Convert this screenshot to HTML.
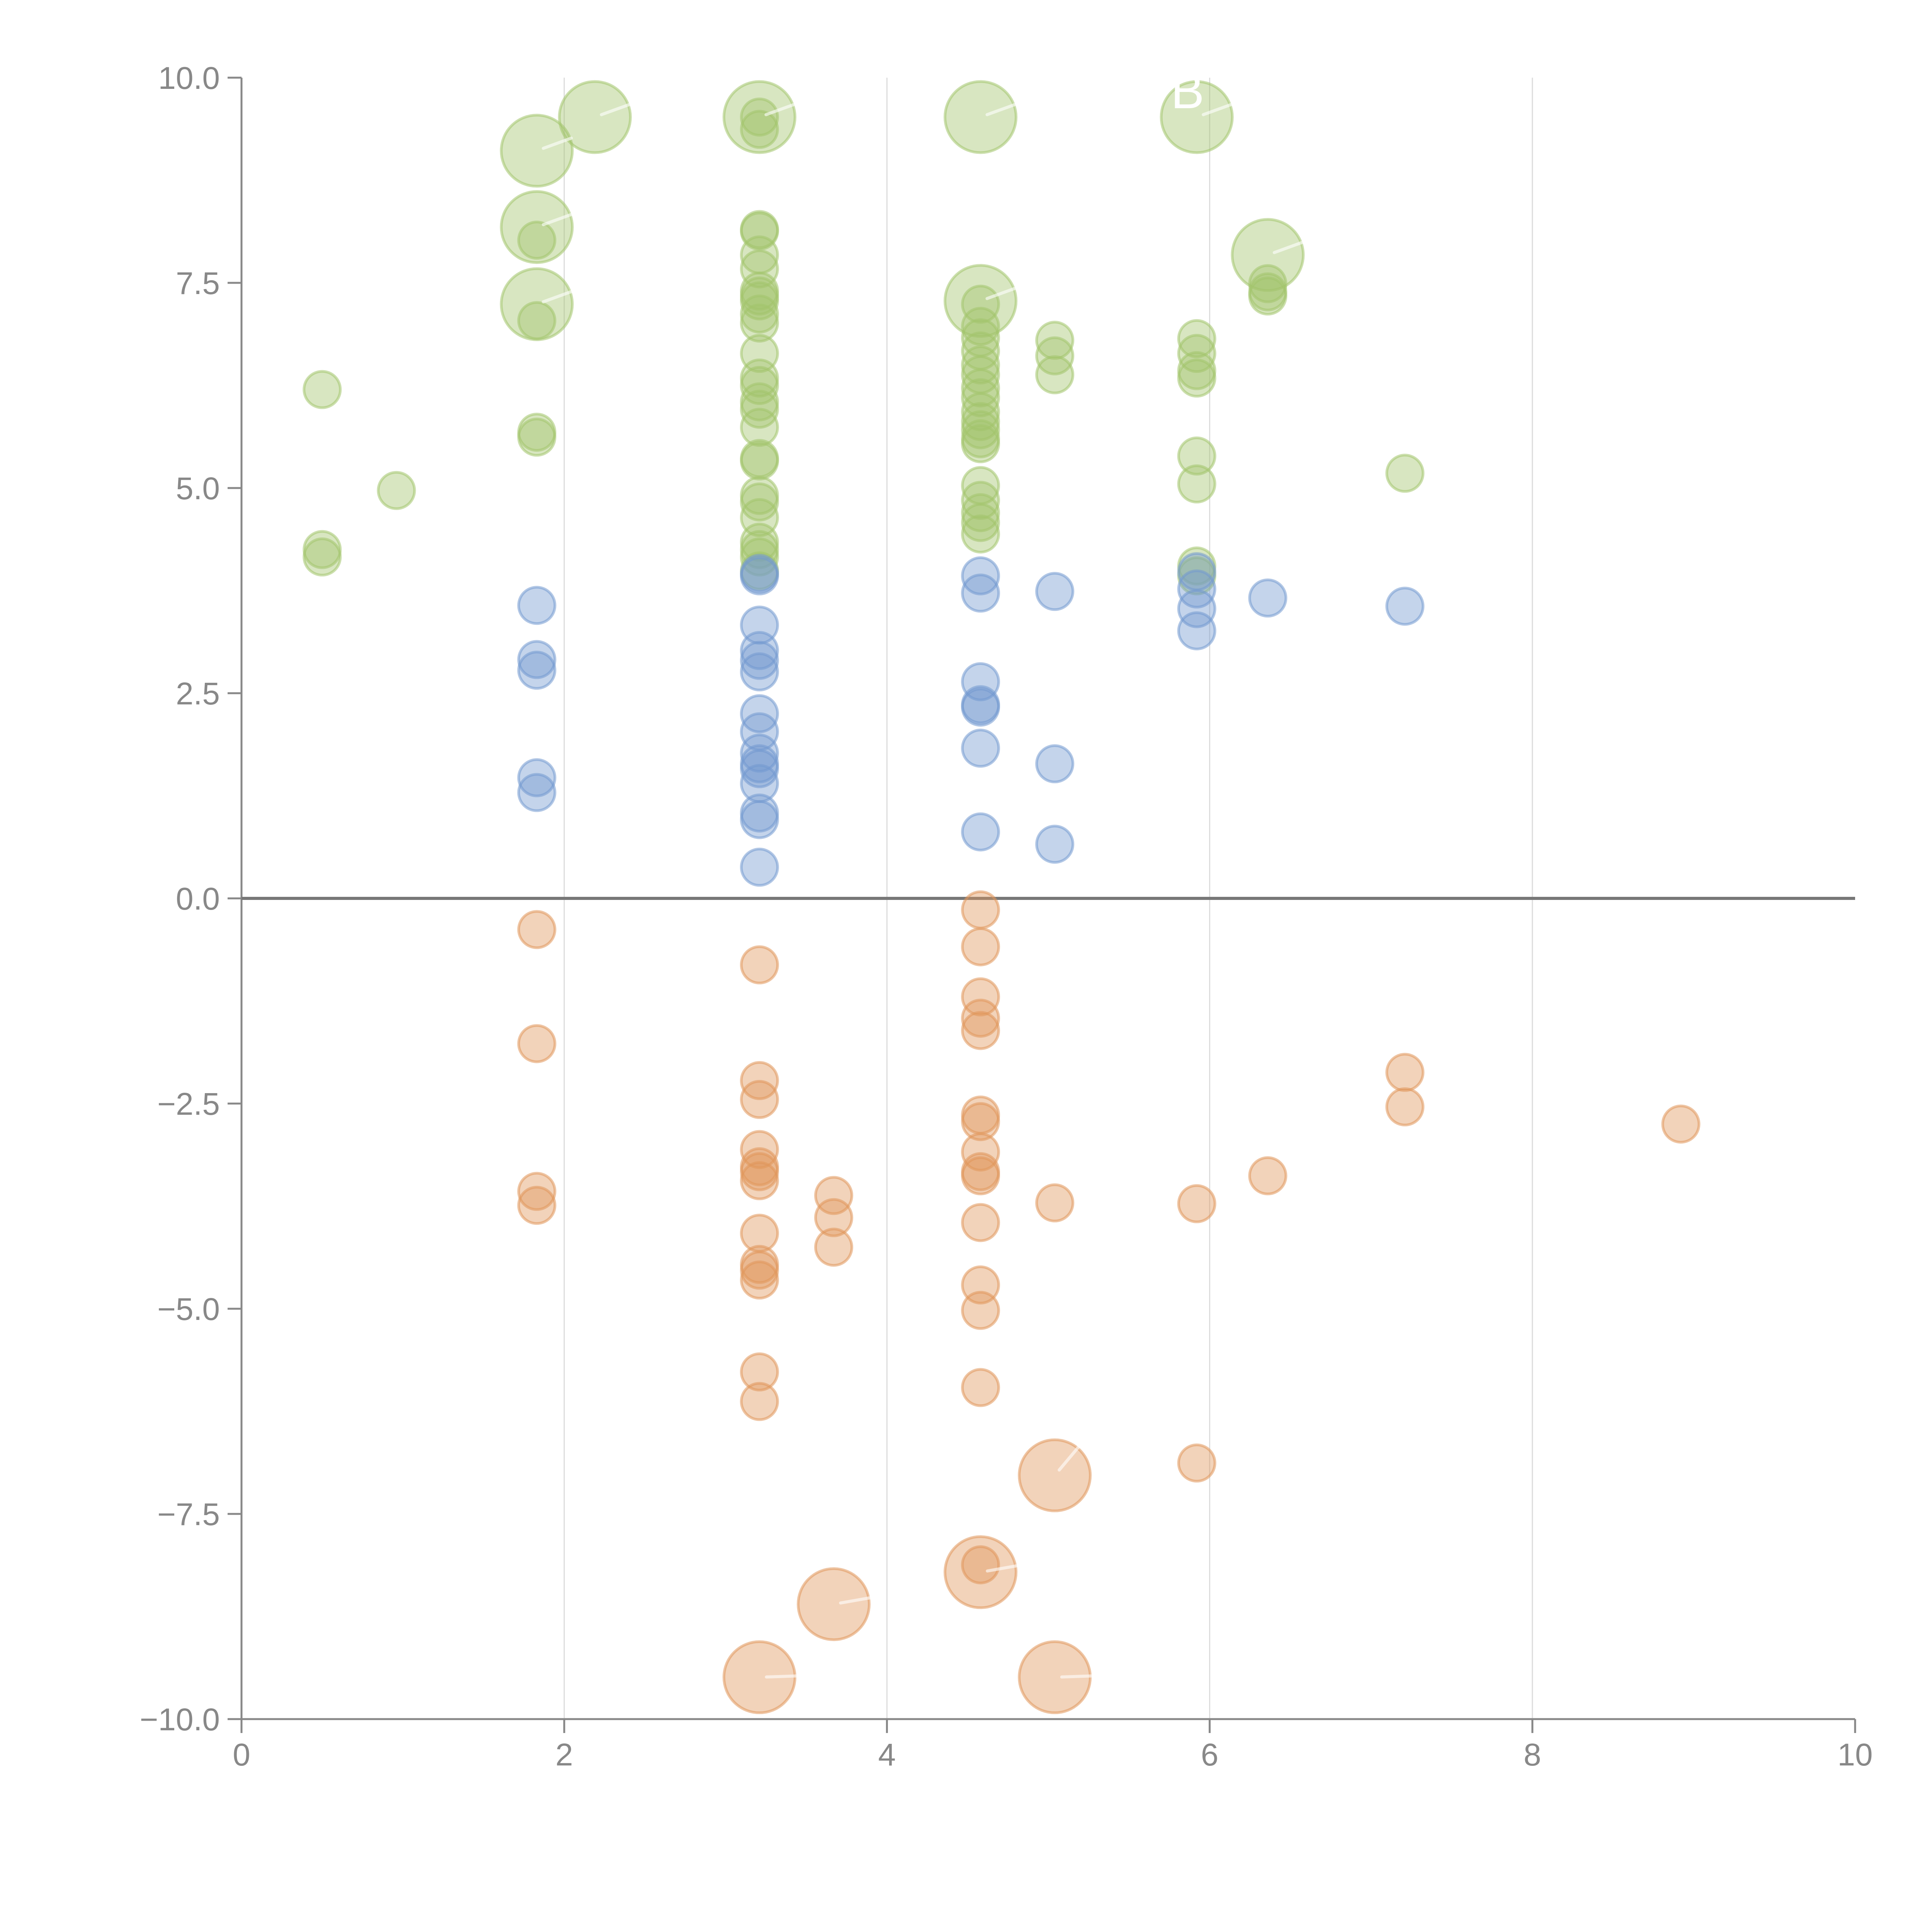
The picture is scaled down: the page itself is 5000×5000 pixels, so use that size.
<!DOCTYPE html>
<html><head><meta charset="utf-8"><style>
html,body{margin:0;padding:0;background:#fff;}
svg{display:block;}
text{font-family:"Liberation Sans",Arial,sans-serif;}
</style></head><body>
<svg id="chart" width="5000" height="5000" viewBox="0 0 5000 5000" xmlns="http://www.w3.org/2000/svg">
<g id="grid"></g>
<g id="axes"></g>
<g id="marks"></g>
<g id="labels"></g>
</svg>
<script>
const xTicks = [0, 2, 4, 6, 8, 10];
const yTicks = [-10, -7.5, -5, -2.5, 0, 2.5, 5, 7.5, 10];
const yTickLabels = ["\u221210.0","\u22127.5","\u22125.0","\u22122.5","0.0","2.5","5.0","7.5","10.0"];

const greenX = [0.5,0.5,0.5,0.96,1.83,1.83,1.83,1.83,1.83,1.83,1.83,2.19,3.21,3.21,3.21,3.21,3.21,3.21,3.21,3.21,3.21,3.21,3.21,3.21,3.21,3.21,3.21,3.21,3.21,3.21,3.21,3.21,3.21,3.21,3.21,3.21,3.21,3.21,3.21,4.58,4.58,4.58,4.58,4.58,4.58,4.58,4.58,4.58,4.58,4.58,4.58,4.58,4.58,4.58,4.58,4.58,4.58,4.58,4.58,5.04,5.04,5.04,5.92,5.92,5.92,5.92,5.92,5.92,5.92,5.92,5.92,6.36,6.36,6.36,6.36,7.21];
const greenY = [6.2,4.25,4.16,4.97,9.11,8.18,7.24,8.02,7.04,5.68,5.62,9.52,9.52,9.52,9.37,8.15,8.13,7.84,7.67,7.4,7.34,7.28,7.12,7.01,6.64,6.34,6.25,6.05,5.96,5.74,5.36,5.33,4.91,4.83,4.64,4.34,4.25,4.16,3.99,9.52,7.28,7.24,6.97,6.83,6.67,6.5,6.38,6.22,6.1,5.93,5.81,5.71,5.6,5.54,5.03,4.85,4.7,4.58,4.44,6.8,6.61,6.38,9.52,6.82,6.64,6.43,6.34,5.39,5.05,4.05,3.93,7.84,7.49,7.39,7.34,5.18];
const greenBig = [0,0,0,0,1,1,1,0,0,0,0,1,1,0,0,0,0,0,0,0,0,0,0,0,0,0,0,0,0,0,0,0,0,0,0,0,0,0,0,1,1,0,0,0,0,0,0,0,0,0,0,0,0,0,0,0,0,0,0,0,0,0,1,0,0,0,0,0,0,0,0,1,0,0,0,0];

const blueX = [1.83,1.83,1.83,1.83,1.83,3.21,3.21,3.21,3.21,3.21,3.21,3.21,3.21,3.21,3.21,3.21,3.21,3.21,3.21,3.21,4.58,4.58,4.58,4.58,4.58,4.58,4.58,5.04,5.04,5.04,5.92,5.92,5.92,5.92,6.36,7.21];
const blueY = [3.57,2.91,2.78,1.47,1.29,3.96,3.93,3.33,3.02,2.9,2.76,2.25,2.03,1.77,1.64,1.58,1.4,1.04,0.96,0.38,3.93,3.72,2.64,2.36,2.33,1.83,0.81,3.74,1.64,0.66,3.98,3.77,3.53,3.26,3.66,3.56];

const orangeX = [1.83,1.83,1.83,1.83,3.21,3.21,3.21,3.21,3.21,3.21,3.21,3.21,3.21,3.21,3.21,3.21,3.21,3.21,3.67,3.67,3.67,3.67,4.58,4.58,4.58,4.58,4.58,4.58,4.58,4.58,4.58,4.58,4.58,4.58,4.58,4.58,4.58,4.58,5.04,5.04,5.04,5.92,5.92,6.36,7.21,7.21,8.92];
const orangeY = [-0.38,-1.77,-3.57,-3.74,-0.81,-2.22,-2.45,-3.06,-3.27,-3.33,-3.44,-4.08,-4.46,-4.53,-4.65,-5.77,-6.13,-9.49,-3.62,-3.89,-4.25,-8.6,-0.14,-0.59,-1.2,-1.46,-1.61,-2.64,-2.72,-3.09,-3.33,-3.38,-3.95,-4.71,-5.02,-5.96,-8.21,-8.12,-3.71,-7.03,-9.49,-3.72,-6.88,-3.38,-2.12,-2.54,-2.75];
const orangeBig = [0,0,0,0,0,0,0,0,0,0,0,0,0,0,0,0,0,1,0,0,0,1,0,0,0,0,0,0,0,0,0,0,0,0,0,0,1,0,0,1,1,0,0,0,0,0,0];

const NS = "http://www.w3.org/2000/svg";
const X0 = 625, X1 = 4801, YT = 201, YB = 4449;
function xs(v){ return X0 + (v - 0) / 10 * (X1 - X0); }
function ys(v){ return YB - (v + 10) / 20 * (YB - YT); }
function mk(tag, attrs, parent){ const e = document.createElementNS(NS, tag); for (const k in attrs) e.setAttribute(k, attrs[k]); parent.appendChild(e); return e; }

const grid = document.getElementById('grid');
const axes = document.getElementById('axes');
const marks = document.getElementById('marks');
const labels = document.getElementById('labels');

xTicks.forEach(t => {
  if (t > 0 && t < 10) {
    const g = mk('line', {x1: xs(t), x2: xs(t), y1: YT, y2: YB, stroke: '#dcdcdc', 'stroke-width': 3}, grid);
    
    
  }
  const tk = mk('line', {x1: xs(t), x2: xs(t), y1: YB, y2: YB + 36, stroke: '#888', 'stroke-width': 5}, axes);
  
  
  const tl = mk('text', {x: xs(t), y: YB + 120, 'text-anchor': 'middle', 'font-size': 82, fill: '#888'}, axes);
  tl.textContent = String(t);
  
  
});
yTicks.forEach((t, i) => {
  const tk = mk('line', {x1: X0 - 36, x2: X0, y1: ys(t), y2: ys(t), stroke: '#888', 'stroke-width': 5}, axes);
  
  
  const tl = mk('text', {x: X0 - 56, y: ys(t) + 29, 'text-anchor': 'end', 'font-size': 82, fill: '#888'}, axes);
  tl.textContent = yTickLabels[i];
  
  
});
const ya = mk('line', {x1: X0, x2: X0, y1: YT, y2: YB + 36, stroke: '#888', 'stroke-width': 5}, axes);


const xa = mk('line', {x1: X0 - 36, x2: X1, y1: YB, y2: YB, stroke: '#888', 'stroke-width': 5}, axes);


const zl = mk('line', {x1: X0, x2: X1, y1: ys(0), y2: ys(0), stroke: '#777', 'stroke-width': 8}, axes);



function drawSeries(xArr, yArr, bigArr, color, name){
  xArr.forEach((xv, i) => {
    const big = bigArr && bigArr[i];
    const c = mk('circle', {cx: xs(xv), cy: ys(yArr[i]), r: big ? 92 : 47, fill: color, 'fill-opacity': 0.42, stroke: color, 'stroke-opacity': 0.55, 'stroke-width': 7}, marks);
    
    
  });
}
drawSeries(greenX, greenY, greenBig, '#a3c46c', 'green');
drawSeries(blueX, blueY, null, '#7399cf', 'blue');
drawSeries(orangeX, orangeY, orangeBig, '#e0955a', 'orange');

// white leader lines on large bubbles
function leaders(xArr, yArr, bigArr, ang){
  xArr.forEach((xv, i) => {
    if (!bigArr[i]) return;
    const cx = xs(xv), cy = ys(yArr[i]);
    const a = ang(cx, cy) * Math.PI / 180;
    const l = mk('line', {x1: cx + 18 * Math.cos(a), y1: cy - 18 * Math.sin(a), x2: cx + 95 * Math.cos(a), y2: cy - 95 * Math.sin(a), stroke: '#fff', 'stroke-opacity': 0.6, 'stroke-width': 8, 'stroke-linecap': 'round'}, labels);
    
    
  });
}
leaders(greenX, greenY, greenBig, () => 20);
leaders(orangeX, orangeY, orangeBig, (cx, cy) => cy > 4200 ? 2 : (cy > 3950 ? 10 : 50));

const lbls = [["C", 1640, 280], ["B", 3030, 280]];
lbls.forEach(l => {
  const t = mk('text', {x: l[1], y: l[2], 'font-size': 130, fill: '#fff'}, labels);
  t.textContent = l[0];
  
  
});
</script>
</body></html>
